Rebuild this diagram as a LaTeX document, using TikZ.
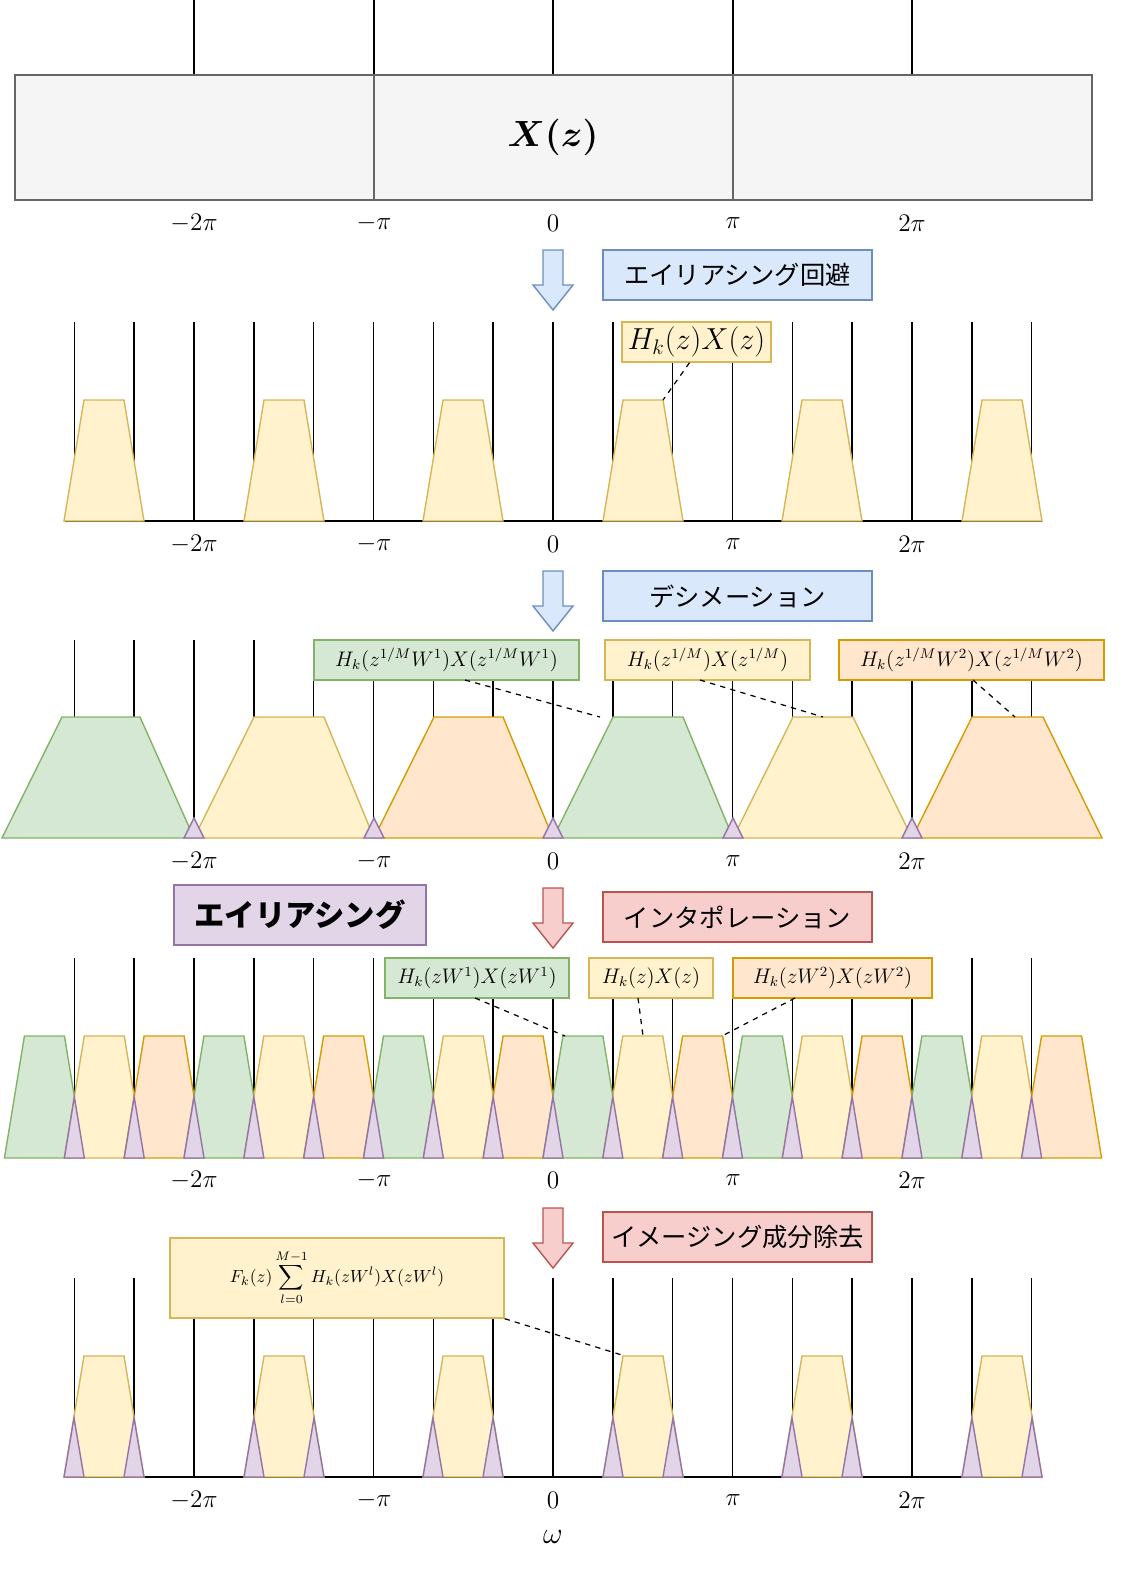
\documentclass[tikz,border=0pt]{standalone}
\usepackage{fontspec}
\usepackage{amsmath}
\newfontfamily\jpfont{Noto Sans CJK JP}
\usetikzlibrary{positioning}
\definecolor{ylwF}{HTML}{FFF2CC}\definecolor{ylwD}{HTML}{D6B656}
\definecolor{grnF}{HTML}{D5E8D4}\definecolor{grnD}{HTML}{82B366}
\definecolor{orgF}{HTML}{FFE6CC}\definecolor{orgD}{HTML}{D79B00}
\definecolor{prpF}{HTML}{E1D5E7}\definecolor{prpD}{HTML}{9673A6}
\definecolor{bluF}{HTML}{DAE8FC}\definecolor{bluD}{HTML}{6C8EBF}
\definecolor{redF}{HTML}{F8CECC}\definecolor{redD}{HTML}{B85450}
\definecolor{gryF}{HTML}{F5F5F5}\definecolor{gryD}{HTML}{666666}

\begin{document}
\begin{tikzpicture}[x=0.02cm, y=-0.02cm,
    tick/.style={black, line width=0.9pt},
    ylw/.style={fill=ylwF, draw=ylwD, line width=0.8pt},
    grn/.style={fill=grnF, draw=grnD, line width=0.8pt},
    org/.style={fill=orgF, draw=orgD, line width=0.8pt},
    prp/.style={fill=prpF, draw=prpD, line width=0.8pt},
    axlbl/.style={font=\Large},
    stagebox/.style={rectangle, minimum width=5.38cm, minimum height=1cm, line width=0.8pt, font=\jpfont\Large},
    lblbox/.style={rectangle, minimum height=0.8cm, inner sep=2pt, line width=0.8pt, font=\large},
    guide/.style={dashed, line width=0.7pt},
    barrow/.style={line width=0.8pt, line join=miter}
  ]
\useasboundingbox (0,0) rectangle (1126,1572);

% --- spectrum X(z)
\foreach \x in {194,374,553,733,912} \draw[tick] (\x,0) -- (\x,75);
\draw[fill=gryF, draw=gryD, line width=0.8pt] (15,75) rectangle (1092,200);
\draw[gryD, line width=0.8pt] (374,75) -- (374,200) (733,75) -- (733,200);
\node[font=\huge] (xz) at (553,137) {$\boldsymbol{X(z)}$};

% axis labels for each panel
\foreach \y/\n in {223/a,544/b,861/c,1180/d,1500/e} {
  \node[axlbl] (m2\n) at (194,\y) {$-2\pi$};
  \node[axlbl] (m1\n) at (374,\y) {$-\pi$};
  \node[axlbl] (z\n) at (553,\y) {$0$};
  \node[axlbl] (p1\n) at (733,\y) {$\pi$};
  \node[axlbl] (p2\n) at (912,\y) {$2\pi$};
}

% --- block arrows and stage boxes
\foreach \y/\f/\d in {250/bluF/bluD,571/bluF/bluD,888/redF/redD,1208/redF/redD}
  \draw[barrow, fill=\f, draw=\d] (543,\y) -- (563,\y) -- (563,\y+35) -- (573,\y+35)
     -- (553,\y+60) -- (533,\y+35) -- (543,\y+35) -- cycle;
\node[stagebox, fill=bluF, draw=bluD] (avoid) at (737.5,275) {エイリアシング回避};
\node[stagebox, fill=bluF, draw=bluD] (decim) at (737.5,596) {デシメーション};
\node[stagebox, fill=redF, draw=redD] (interp) at (737.5,917) {インタポレーション};
\node[stagebox, fill=redF, draw=redD] (imgrm) at (737.5,1237) {イメージング成分除去};
\node[stagebox, fill=prpF, draw=prpD, minimum width=5.04cm, minimum height=1.2cm,
      font=\jpfont\LARGE\bfseries] (alias) at (300,915) {エイリアシング};

% --- panel 2: filtered spectrum
\foreach \k in {-8,...,8} \draw[tick] ({553+\k*59.83},322) -- ({553+\k*59.83},521);
\draw[tick] (65,521) -- (1042,521);
\foreach \c in {104,284,463,643,822,1002}
  \draw[ylw] (\c-40,521) -- (\c-20,400) -- (\c+20,400) -- (\c+40,521) -- cycle;
\node[lblbox, ylw, font=\LARGE, minimum width=2.98cm] (hx) at (696.5,342) {$H_k(z)X(z)$};
\coordinate (hxt) at (663,400);
\draw[guide] (hx.south) ++(-7,0) -- (hxt);

% --- panel 3: decimated spectrum
\foreach \k in {-8,...,8} \draw[tick] ({553+\k*59.83},640) -- ({553+\k*59.83},838);
\draw[grn] (2,838) -- (62,717) -- (140,717) -- (194,838) -- cycle;
\draw[ylw] (194,838) -- (254,717) -- (324,717) -- (374,838) -- cycle;
\draw[org] (374,838) -- (434,717) -- (503,717) -- (553,838) -- cycle;
\draw[grn] (553,838) -- (613,717) -- (683,717) -- (733,838) -- cycle;
\draw[ylw] (733,838) -- (793,717) -- (853,717) -- (912,838) -- cycle;
\draw[org] (912,838) -- (972,717) -- (1043,717) -- (1102,838) -- cycle;
\foreach \x in {194,374,553,733,912}
  \draw[prp] (\x-10,838) -- (\x,818) -- (\x+10,838) -- cycle;
\node[lblbox, grn, minimum width=5.3cm] (dg) at (446.5,660) {$H_k(z^{1/M}W^1)X(z^{1/M}W^1)$};
\node[lblbox, ylw, minimum width=4.1cm] (dy) at (707.5,660) {$H_k(z^{1/M})X(z^{1/M})$};
\node[lblbox, org, minimum width=5.3cm] (do) at (971.5,660) {$H_k(z^{1/M}W^2)X(z^{1/M}W^2)$};
\coordinate (dgt) at (600,717);
\coordinate (dyt) at (823,717);
\coordinate (dot) at (1015,717);
\draw[guide] (465,680) -- (dgt);
\draw[guide] (700,680) -- (dyt);
\draw[guide] (973,680) -- (dot);

% --- panel 4: interpolated spectrum
\foreach \k in {-8,...,8} \draw[tick] ({553+\k*59.83},958) -- ({553+\k*59.83},1158);
\foreach \i in {-9,...,8} {
  \pgfmathtruncatemacro{\r}{mod(\i+9,3)}
  \pgfmathsetmacro{\c}{553+(\i+0.5)*59.83}
  \ifcase\r \def\sty{grn}\or \def\sty{ylw}\or \def\sty{org}\fi
  \draw[\sty] (\c-40,1158) -- (\c-20,1036) -- (\c+20,1036) -- (\c+40,1158) -- cycle;
}
\foreach \k in {-8,...,8}
  \draw[prp] ({553+\k*59.83-10},1158) -- ({553+\k*59.83},1097) -- ({553+\k*59.83+10},1158) -- cycle;
\node[lblbox, grn, minimum width=3.68cm] (ig) at (477,978) {$H_k(zW^1)X(zW^1)$};
\node[lblbox, ylw, minimum width=2.48cm] (iy) at (651,978) {$H_k(z)X(z)$};
\node[lblbox, org, minimum width=3.98cm] (io) at (832.5,978) {$H_k(zW^2)X(zW^2)$};
\coordinate (igt) at (565,1036);
\coordinate (iyt) at (643,1036);
\coordinate (iot) at (722,1036);
\draw[guide] (475,998) -- (igt);
\draw[guide] (638,998) -- (iyt);
\draw[guide] (795,998) -- (iot);

% --- panel 5: image removal
\foreach \k in {-8,...,8} \draw[tick] ({553+\k*59.83},1278) -- ({553+\k*59.83},1477);
\draw[tick] (65,1477) -- (1042,1477);
\foreach \c in {104,284,463,643,822,1002} {
  \draw[ylw] (\c-40,1477) -- (\c-20,1356) -- (\c+20,1356) -- (\c+40,1477) -- cycle;
  \draw[prp] (\c-40,1477) -- (\c-30,1418) -- (\c-20,1477) -- cycle;
  \draw[prp] (\c+20,1477) -- (\c+30,1418) -- (\c+40,1477) -- cycle;
}
\node[lblbox, ylw, minimum width=6.68cm, minimum height=1.6cm, font=\normalsize] (fk) at (337,1278)
  {$F_k(z)\displaystyle\sum_{l=0}^{M-1}H_k(zW^l)X(zW^l)$};
\coordinate (fkt) at (625,1356);
\draw[guide] (fk.south east) -- (fkt);
\node[font=\LARGE] (omega) at (553,1537) {$\omega$};
\end{tikzpicture}
\end{document}
